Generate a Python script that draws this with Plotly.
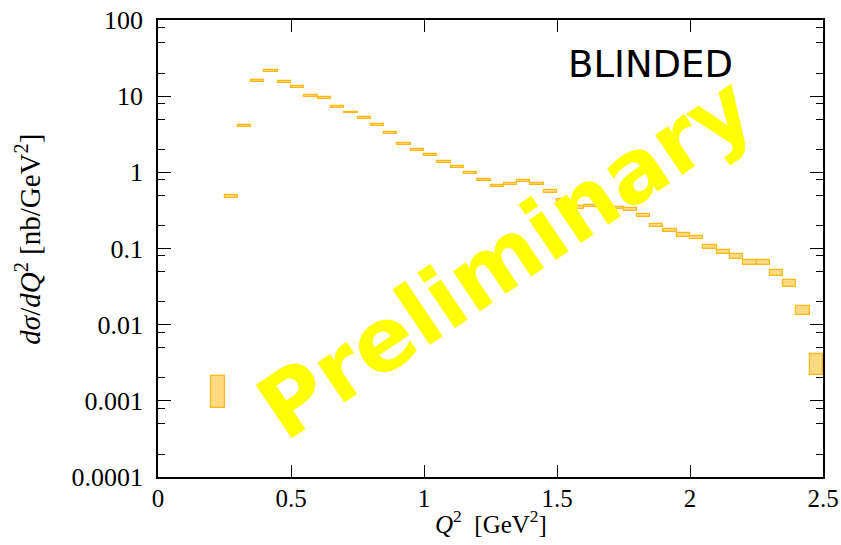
import plotly.graph_objects as go

# Bin centres in Q^2 [GeV^2] (bin width 0.05)
q2_centers = [0.225, 0.275, 0.325, 0.375, 0.425, 0.475, 0.525, 0.575, 0.625, 0.675,
              0.725, 0.775, 0.825, 0.875, 0.925, 0.975, 1.025, 1.075, 1.125, 1.175,
              1.225, 1.275, 1.325, 1.375, 1.425, 1.475, 1.525, 1.575, 1.625, 1.675,
              1.725, 1.775, 1.825, 1.875, 1.925, 1.975, 2.025, 2.075, 2.125, 2.175,
              2.225, 2.275, 2.325, 2.375, 2.425, 2.475]
bin_width = 0.05

# Lower / upper edge of each uncertainty band [nb/GeV^2]
xs_low = [0.0008, 0.466, 3.98, 15.5, 20.8, 15.0, 12.9, 9.85, 9.28, 7.0,
          5.97, 5.07, 4.10, 3.22, 2.31, 1.89, 1.64, 1.34, 1.13, 0.944,
          0.764, 0.643, 0.690, 0.748, 0.690, 0.542, 0.42, 0.331, 0.348, 0.345,
          0.33, 0.311, 0.258, 0.194, 0.164, 0.143, 0.132, 0.0989, 0.085, 0.0736,
          0.060, 0.060, 0.0441, 0.0313, 0.0133, 0.00219]
xs_high = [0.0021, 0.50, 4.19, 16.5, 21.9, 15.8, 13.6, 10.4, 9.77, 7.43,
           6.27, 5.33, 4.36, 3.42, 2.43, 2.01, 1.73, 1.41, 1.20, 1.01,
           0.81, 0.684, 0.733, 0.795, 0.733, 0.582, 0.45, 0.362, 0.373, 0.37,
           0.35, 0.338, 0.284, 0.212, 0.181, 0.160, 0.148, 0.110, 0.096, 0.084,
           0.070, 0.070, 0.0524, 0.0387, 0.0178, 0.00414]

y_tickvals = [1e-4, 1e-3, 1e-2, 1e-1, 1, 10, 100]
y_ticktext = ["0.0001", "0.001", "0.01", "0.1", "1", "10", "100"]
y_minor_vals = [m * 10.0 ** e for e in range(-4, 2) for m in (2, 5, 8)]
x_tickvals = [0, 0.5, 1, 1.5, 2, 2.5]
x_ticktext = ["0", "0.5", "1", "1.5", "2", "2.5"]

heights = [h - l for l, h in zip(xs_low, xs_high)]

fig = go.Figure()
fig.add_trace(go.Bar(
    x=q2_centers, y=heights, base=xs_low, width=bin_width,
    marker=dict(color="#FFDA80", line=dict(color="#FFB812", width=1.2)),
    showlegend=False, hoverinfo="skip"))

serif = "Liberation Serif"
axis_common = dict(showline=True, linecolor="black", linewidth=1.5, mirror="ticks",
                   ticks="inside", tickcolor="black", tickwidth=1, showgrid=False,
                   zeroline=False, automargin=False, ticklabeloverflow="allow")

fig.update_layout(
    width=841, height=545,
    margin=dict(l=158, r=18, t=20, b=68),
    paper_bgcolor="white", plot_bgcolor="white",
    bargap=0,
    xaxis=dict(range=[0, 2.5], tickmode="array", tickvals=x_tickvals, ticktext=x_ticktext,
               ticklen=12, ticklabelstandoff=-2,
               tickfont=dict(family=serif, size=25, color="black"),
               **axis_common),
    yaxis=dict(type="log", range=[-4, 2], tickmode="array", tickvals=y_tickvals,
               ticktext=y_ticktext, ticklen=13, ticklabelstandoff=8,
               tickfont=dict(family=serif, size=26, color="black"),
               minor=dict(tickmode="array", tickvals=y_minor_vals, ticklen=7,
                          ticks="inside", tickcolor="black", tickwidth=1),
               **axis_common),
)

# axis titles
fig.add_annotation(text="<i>Q</i><sup>2</sup>  [GeV<sup>2</sup>]", xref="paper", yref="paper",
                   x=0.5, y=-0.098, showarrow=False, xanchor="center", yanchor="middle",
                   font=dict(family=serif, size=25, color="black"))
fig.add_annotation(text="<i>dσ</i>/<i>dQ</i><sup>2</sup> [nb/GeV<sup>2</sup>]",
                   xref="paper", yref="paper", x=-0.195, y=0.52, textangle=-90,
                   showarrow=False, xanchor="center", yanchor="middle",
                   font=dict(family=serif, size=29, color="black"))

fig.add_annotation(text="BLINDED", xref="paper", yref="paper", x=0.741, y=0.903,
                   showarrow=False, xanchor="center", yanchor="middle",
                   font=dict(family="DejaVu Sans", size=37, color="black"))
fig.add_annotation(text="<b>Preliminary</b>", xref="paper", yref="paper", x=0.522, y=0.48,
                   showarrow=False, xanchor="center", yanchor="middle", textangle=-34,
                   font=dict(family="DejaVu Sans", size=88, color="#FFFF00"))

# remove the default 8px page margin so the figure fills the window exactly
fig.write_html("out.html", config={"displayModeBar": False},
               post_script="document.body.style.margin='0';")
